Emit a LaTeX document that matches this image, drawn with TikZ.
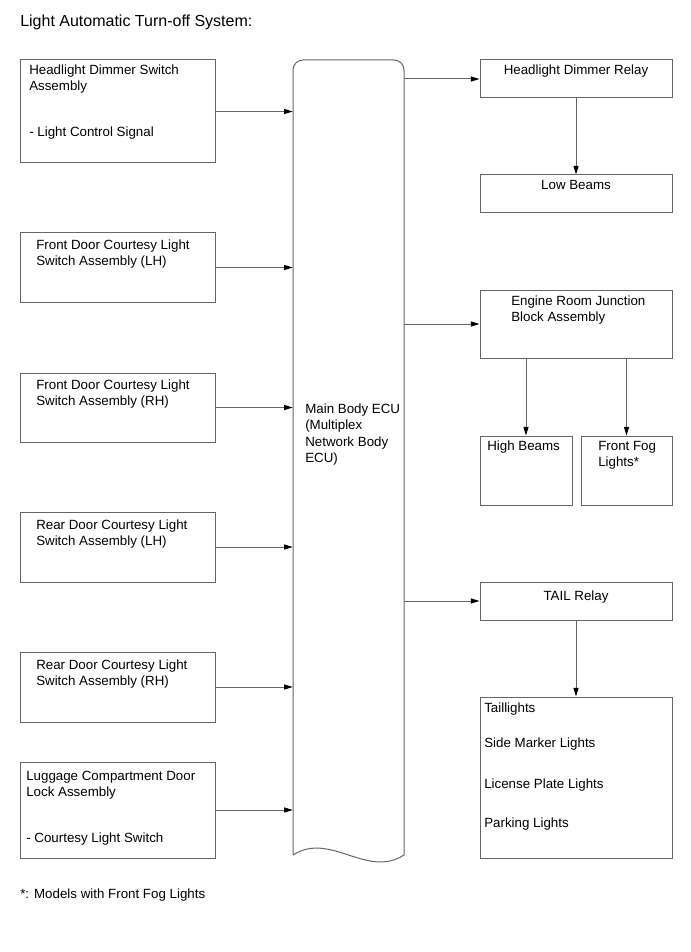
\documentclass[tikz,border=0pt]{standalone}
\usepackage{fontspec}
\setmainfont{Liberation Sans}
\usetikzlibrary{arrows.meta}
\newcommand{\mkbox}[5]{% name, x1, y1, x2, y2
  \node[box, minimum width={(#4-#2)*0.75pt}, minimum height={(#5-#3)*0.75pt}] (#1) at ({(#2+#4)/2},{(#3+#5)/2}) {};}
\newcommand{\tl}[4]{\node[txt] (#1) at (#2,#3) {#4};}
\newcommand{\tc}[4]{\node[ctxt] (#1) at (#2,#3) {#4};}
\begin{document}
\begin{tikzpicture}[x=0.75pt,y=-0.75pt,
  box/.style={draw=black!60, line width=0.75pt, rectangle, inner sep=0pt},
  txt/.style={anchor=base west, inner sep=0pt, font=\fontsize{10}{12}\selectfont},
  ctxt/.style={anchor=base, inner sep=0pt, font=\fontsize{10}{12}\selectfont},
  conn/.style={draw=black!60, line width=0.75pt, -{Triangle[length=6.5pt,width=3.8pt,color=black]}},
  eculine/.style={draw=black!60, line width=0.75pt}
]
\fill[white] (0,0) rectangle (690,952);
\useasboundingbox (0,0) rectangle (690,952);

\node[anchor=base west, inner sep=0pt, font=\fontsize{12}{14}\selectfont] (title) at (20,27) {Light Automatic Turn-off System:};

% left boxes
\mkbox{b1}{20}{60}{215}{163}
\mkbox{b2}{20}{233}{215}{302}
\mkbox{b3}{20}{373}{215}{442}
\mkbox{b4}{20}{512}{215}{582}
\mkbox{b5}{20}{652}{215}{722}
\mkbox{b6}{20}{762}{215}{858}

\tl{b1a}{29}{75}{Headlight Dimmer Switch}
\tl{b1b}{29}{91}{Assembly}
\tl{b1c}{29}{137}{- Light Control Signal}
\tl{b2a}{36}{249}{Front Door Courtesy Light}
\tl{b2b}{36}{265}{Switch Assembly (LH)}
\tl{b3a}{36}{389}{Front Door Courtesy Light}
\tl{b3b}{36}{405}{Switch Assembly (RH)}
\tl{b4a}{36}{529}{Rear Door Courtesy Light}
\tl{b4b}{36}{545}{Switch Assembly (LH)}
\tl{b5a}{36}{669}{Rear Door Courtesy Light}
\tl{b5b}{36}{685}{Switch Assembly (RH)}
\tl{b6a}{26}{780}{Luggage Compartment Door}
\tl{b6b}{26}{796}{Lock Assembly}
\tl{b6c}{26}{842}{- Courtesy Light Switch}

% ECU
\node[inner sep=0pt, minimum width={111*0.75pt}, minimum height={796*0.75pt}] (ecu) at (348.5,458) {};
\draw[eculine] (293,855) {[rounded corners=7.5pt] -- (293,60) -- (404,60)} -- (404,855)
  .. controls (367,879) and (330,831) .. (293,855);
\tl{e1}{305}{413}{Main Body ECU}
\tl{e2}{305}{429}{(Multiplex}
\tl{e3}{305}{446}{Network Body}
\tl{e4}{305}{462}{ECU)}

% right boxes
\mkbox{relay}{480}{60}{672}{98}
\mkbox{low}{480}{175}{672}{213}
\mkbox{erj}{480}{290}{672}{358}
\mkbox{high}{480}{436}{572}{505}
\mkbox{fog}{581}{436}{672}{505}
\mkbox{tail}{480}{582}{672}{620}
\mkbox{lamps}{480}{697}{672}{858}

\tc{r1}{576}{75}{Headlight Dimmer Relay}
\tc{r2}{576}{190}{Low Beams}
\tl{r3a}{511}{305}{Engine Room Junction}
\tl{r3b}{511}{321}{Block Assembly}
\tl{r4}{487}{450}{High Beams}
\tl{r5a}{598}{450}{Front Fog}
\tl{r5b}{598}{466}{Lights*}
\tc{r6}{576}{600}{TAIL Relay}
\tl{r7a}{484}{712}{Taillights}
\tl{r7b}{484}{747}{Side Marker Lights}
\tl{r7c}{484}{788}{License Plate Lights}
\tl{r7d}{484}{827}{Parking Lights}

% connectors
\foreach \b in {b1,b2,b3,b4,b5,b6}
  \draw[conn] (\b.east) -- (\b.east -| ecu.west);
\foreach \b in {relay,erj,tail}
  \draw[conn] (\b.west -| ecu.east) -- (\b.west);
\draw[conn] (relay.south) -- (low.north);
\draw[conn] (tail.south) -- (lamps.north);
\draw[conn] (erj.south -| high.north) -- (high.north);
\draw[conn] (erj.south -| fog.north) -- (fog.north);

\tl{foot}{20}{898}{*: Models with Front Fog Lights}
\end{tikzpicture}
\end{document}
